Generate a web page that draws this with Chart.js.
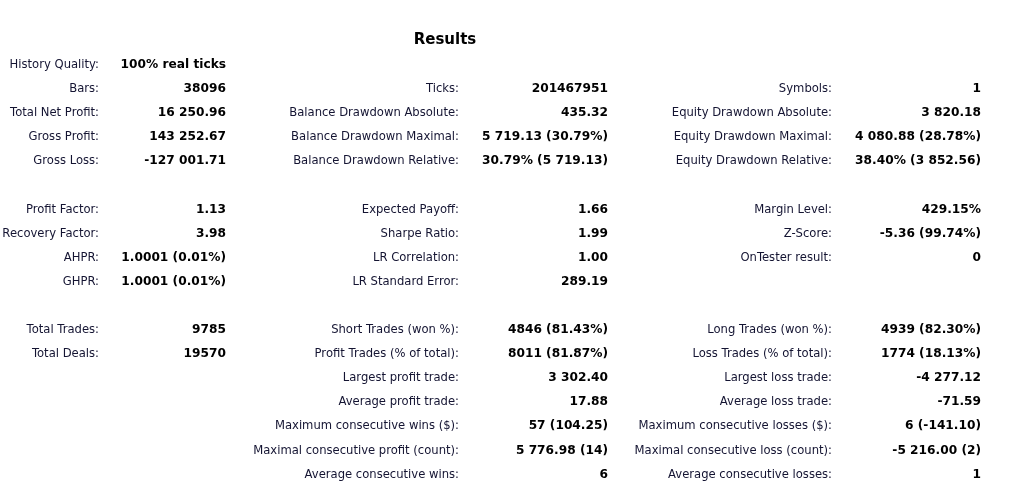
<!DOCTYPE html>
<html>
<head>
<meta charset="utf-8">
<script src="https://cdn.jsdelivr.net/npm/chart.js@4/dist/chart.umd.min.js"></script>
<style>
  html, body { margin: 0; padding: 0; background: #fff; }
  #wrap { width: 1013px; height: 504px; }
</style>
</head>
<body>
<div id="wrap"><canvas id="report"></canvas></div>
<script>
const title = 'Results';

// rows 0..17, null = empty cell
const col1Labels = ['History Quality:', 'Bars:', 'Total Net Profit:', 'Gross Profit:', 'Gross Loss:', null,
  'Profit Factor:', 'Recovery Factor:', 'AHPR:', 'GHPR:', null,
  'Total Trades:', 'Total Deals:', null, null, null, null, null];
const col1Values = ['100% real ticks', '38096', '16 250.96', '143 252.67', '-127 001.71', null,
  '1.13', '3.98', '1.0001 (0.01%)', '1.0001 (0.01%)', null,
  '9785', '19570', null, null, null, null, null];

const col2Labels = [null, 'Ticks:', 'Balance Drawdown Absolute:', 'Balance Drawdown Maximal:', 'Balance Drawdown Relative:', null,
  'Expected Payoff:', 'Sharpe Ratio:', 'LR Correlation:', 'LR Standard Error:', null,
  'Short Trades (won %):', 'Profit Trades (% of total):', 'Largest profit trade:', 'Average profit trade:',
  'Maximum consecutive wins ($):', 'Maximal consecutive profit (count):', 'Average consecutive wins:'];
const col2Values = [null, '201467951', '435.32', '5 719.13 (30.79%)', '30.79% (5 719.13)', null,
  '1.66', '1.99', '1.00', '289.19', null,
  '4846 (81.43%)', '8011 (81.87%)', '3 302.40', '17.88',
  '57 (104.25)', '5 776.98 (14)', '6'];

const col3Labels = [null, 'Symbols:', 'Equity Drawdown Absolute:', 'Equity Drawdown Maximal:', 'Equity Drawdown Relative:', null,
  'Margin Level:', 'Z-Score:', 'OnTester result:', null, null,
  'Long Trades (won %):', 'Loss Trades (% of total):', 'Largest loss trade:', 'Average loss trade:',
  'Maximum consecutive losses ($):', 'Maximal consecutive loss (count):', 'Average consecutive losses:'];
const col3Values = [null, '1', '3 820.18', '4 080.88 (28.78%)', '38.40% (3 852.56)', null,
  '429.15%', '-5.36 (99.74%)', '0', null, null,
  '4939 (82.30%)', '1774 (18.13%)', '-4 277.12', '-71.59',
  '6 (-141.10)', '-5 216.00 (2)', '1'];

const columns = [
  { labels: col1Labels, values: col1Values, labelX: 99, valueX: 226 },
  { labels: col2Labels, values: col2Values, labelX: 459, valueX: 608 },
  { labels: col3Labels, values: col3Values, labelX: 832, valueX: 981 }
];

const tablePlugin = {
  id: 'table',
  afterDraw(chart) {
    const { ctx, scales: { x, y } } = chart;
    ctx.save();
    ctx.textBaseline = 'alphabetic';
    ctx.fillStyle = '#000';
    ctx.font = 'bold 15px "DejaVu Sans"';
    ctx.textAlign = 'center';
    ctx.fillText(title, x.getPixelForValue(445), y.getPixelForValue(-1) + 5);
    columns.forEach(c => {
      c.labels.forEach((lab, i) => {
        const py = y.getPixelForValue(i) + 5;
        if (lab) {
          ctx.font = '11.6px "DejaVu Sans"';
          ctx.fillStyle = '#141432';
          ctx.textAlign = 'right';
          ctx.fillText(lab, x.getPixelForValue(c.labelX), py);
        }
        const v = c.values[i];
        if (v) {
          ctx.font = 'bold 12.2px "DejaVu Sans"';
          ctx.fillStyle = '#000';
          ctx.textAlign = 'right';
          ctx.fillText(v, x.getPixelForValue(c.valueX), py);
        }
      });
    });
    ctx.restore();
  }
};

new Chart(document.getElementById('report'), {
  type: 'scatter',
  data: { datasets: [{ data: [], pointRadius: 0 }] },
  options: {
    responsive: true,
    maintainAspectRatio: false,
    animation: false,
    layout: { padding: 0 },
    plugins: { legend: { display: false }, tooltip: { enabled: false } },
    scales: {
      x: { type: 'linear', min: 0, max: 1013, display: false },
      y: { type: 'linear', min: -2.614, max: 18.299, reverse: true, display: false }
    }
  },
  plugins: [tablePlugin]
});
</script>
</body>
</html>
